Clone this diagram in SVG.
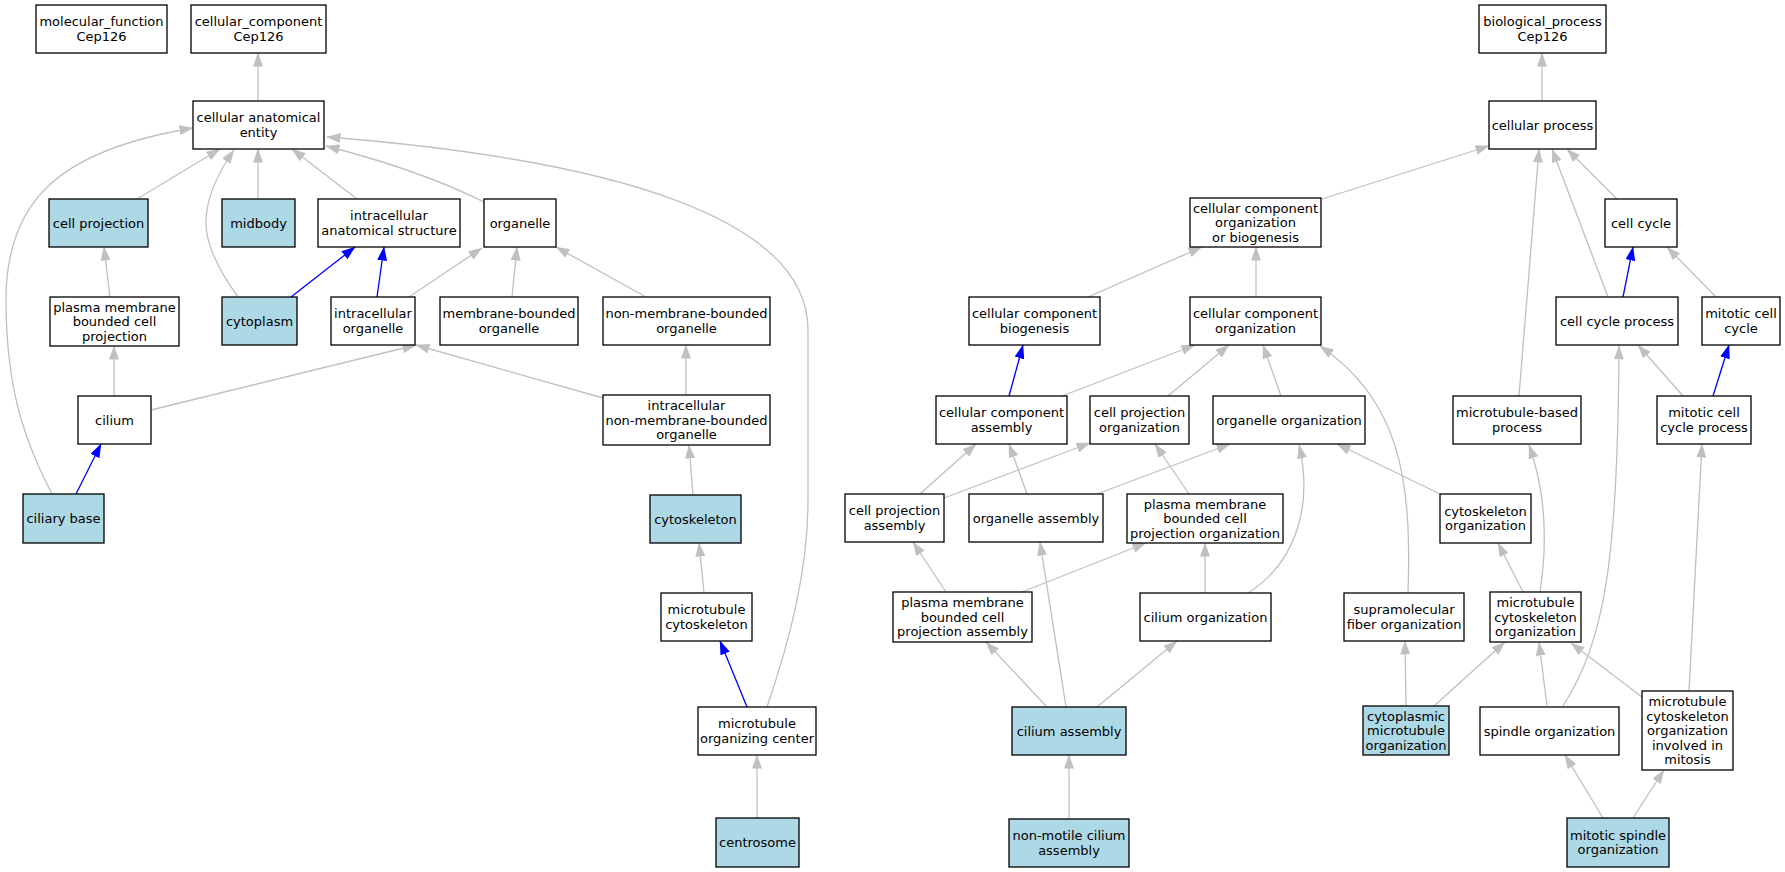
<svg xmlns="http://www.w3.org/2000/svg" width="1785" height="872" viewBox="0 0 1785 872">
<style>
.n rect{fill:#ffffff;stroke:#000000;stroke-width:1.3}
.n.h rect{fill:#add8e6}
.n text{font-family:"DejaVu Sans","Liberation Sans",sans-serif;font-size:13px;fill:#000000;text-anchor:middle}
.e path{fill:none;stroke-width:1.3}
.e .g{stroke:#c0c0c0;marker-end:url(#ag)}
.e .b{stroke:#0000ff;marker-end:url(#ab)}
</style>
<defs>
<marker id="ag" viewBox="0 0 14 10" refX="13.5" refY="5" markerWidth="14" markerHeight="10" markerUnits="userSpaceOnUse" orient="auto"><path d="M0,0L14,5L0,10z" fill="#c0c0c0"/></marker>
<marker id="ab" viewBox="0 0 14 10" refX="13.5" refY="5" markerWidth="14" markerHeight="10" markerUnits="userSpaceOnUse" orient="auto"><path d="M0,0L14,5L0,10z" fill="#0000ff"/></marker>
</defs>
<rect width="1785" height="872" fill="#ffffff"/>
<g id="connectors" class="e">
<path class="g" d="M258,101 L258,53"/>
<path class="g" d="M137,199 L220,149"/>
<path class="g" d="M238,297 C215,265 205,240 206,220 C207,195 220,170 234,150"/>
<path class="g" d="M258,199 L258,149"/>
<path class="g" d="M357,199 L292,149"/>
<path class="g" d="M484,202 C450,185 400,165 326,146"/>
<path class="g" d="M52,494 C30,450 6,400 6,300 C6,200 60,150 193,128"/>
<path class="g" d="M767,707 C790,640 808,570 808,500 L808,330 C808,220 620,160 327,137"/>
<path class="b" d="M291,297 L355,247"/>
<path class="b" d="M377,297 L384,247"/>
<path class="g" d="M409,297 L482,248"/>
<path class="g" d="M512,297 L517,247"/>
<path class="g" d="M646,297 L556,247"/>
<path class="g" d="M110,297 L104,247"/>
<path class="g" d="M114,396 L114,346"/>
<path class="g" d="M151,410 L416,345"/>
<path class="g" d="M603,398 L416,345"/>
<path class="g" d="M686,395 L686,345"/>
<path class="b" d="M76,494 L101,444"/>
<path class="g" d="M693,495 L689,445"/>
<path class="g" d="M704,593 L699,543"/>
<path class="b" d="M747,707 L720,641"/>
<path class="g" d="M757,818 L757,755"/>
<path class="g" d="M1542,101 L1542,53"/>
<path class="g" d="M1322,199 L1489,146"/>
<path class="g" d="M1617,199 L1567,149"/>
<path class="g" d="M1608,297 L1552,149"/>
<path class="g" d="M1519,396 L1539,149"/>
<path class="g" d="M1716,297 L1667,247"/>
<path class="b" d="M1623,297 L1633,247"/>
<path class="b" d="M1713,396 L1729,345"/>
<path class="g" d="M1683,396 L1638,345"/>
<path class="g" d="M1088,297 L1202,247"/>
<path class="g" d="M1256,297 L1256,247"/>
<path class="b" d="M1009,396 L1023,345"/>
<path class="g" d="M1062,396 L1195,345"/>
<path class="g" d="M1168,396 L1229,345"/>
<path class="g" d="M1281,396 L1263,345"/>
<path class="g" d="M1408,593 C1412,480 1400,400 1320,346"/>
<path class="g" d="M920,494 L976,444"/>
<path class="g" d="M944,498 L1090,443"/>
<path class="g" d="M1027,494 L1009,444"/>
<path class="g" d="M1097,494 L1230,444"/>
<path class="g" d="M1189,494 L1155,444"/>
<path class="g" d="M946,592 L913,542"/>
<path class="g" d="M1022,592 L1146,543"/>
<path class="g" d="M1205,593 L1205,543"/>
<path class="g" d="M1248,593 C1300,560 1312,500 1299,445"/>
<path class="g" d="M1047,707 L986,642"/>
<path class="g" d="M1066,707 L1040,542"/>
<path class="g" d="M1097,707 L1177,641"/>
<path class="g" d="M1069,819 L1069,755"/>
<path class="g" d="M1440,494 L1337,444"/>
<path class="g" d="M1523,592 L1498,543"/>
<path class="g" d="M1540,592 C1548,540 1545,490 1529,445"/>
<path class="g" d="M1406,706 L1405,641"/>
<path class="g" d="M1434,706 L1505,642"/>
<path class="g" d="M1547,706 L1539,642"/>
<path class="g" d="M1563,706 C1605,640 1618,560 1619,346"/>
<path class="g" d="M1642,697 L1571,643"/>
<path class="g" d="M1689,691 L1702,444"/>
<path class="g" d="M1603,818 L1565,755"/>
<path class="g" d="M1633,818 L1664,770"/>
</g>
<g id="molecular_function" class="n"><rect x="36" y="5" width="131" height="48"/><text><tspan x="101.5" y="26.25">molecular_function</tspan><tspan x="101.5" y="40.75">Cep126</tspan></text></g>
<g id="cellular_component" class="n"><rect x="191" y="5" width="135" height="48"/><text><tspan x="258.5" y="26.25">cellular_component</tspan><tspan x="258.5" y="40.75">Cep126</tspan></text></g>
<g id="cellular_anatomical_entity" class="n"><rect x="193" y="101" width="131" height="48"/><text><tspan x="258.5" y="122.25">cellular anatomical</tspan><tspan x="258.5" y="136.75">entity</tspan></text></g>
<g id="cell_projection" class="n h"><rect x="49" y="199" width="99" height="48"/><text x="98.5" y="227.5">cell projection</text></g>
<g id="midbody" class="n h"><rect x="222" y="199" width="73" height="48"/><text x="258.5" y="227.5">midbody</text></g>
<g id="intracellular_anatomical_structure" class="n"><rect x="318" y="199" width="142" height="48"/><text><tspan x="389" y="220.25">intracellular</tspan><tspan x="389" y="234.75">anatomical structure</tspan></text></g>
<g id="organelle" class="n"><rect x="484" y="199" width="72" height="48"/><text x="520" y="227.5">organelle</text></g>
<g id="plasma_membrane_bounded_cell_projection" class="n"><rect x="50" y="297" width="129" height="49"/><text><tspan x="114.5" y="311.5">plasma membrane</tspan><tspan x="114.5" y="326">bounded cell</tspan><tspan x="114.5" y="340.5">projection</tspan></text></g>
<g id="cytoplasm" class="n h"><rect x="222" y="297" width="75" height="48"/><text x="259.5" y="325.5">cytoplasm</text></g>
<g id="intracellular_organelle" class="n"><rect x="331" y="297" width="84" height="48"/><text><tspan x="373" y="318.25">intracellular</tspan><tspan x="373" y="332.75">organelle</tspan></text></g>
<g id="membrane_bounded_organelle" class="n"><rect x="440" y="297" width="138" height="48"/><text><tspan x="509" y="318.25">membrane-bounded</tspan><tspan x="509" y="332.75">organelle</tspan></text></g>
<g id="non_membrane_bounded_organelle" class="n"><rect x="603" y="297" width="167" height="48"/><text><tspan x="686.5" y="318.25">non-membrane-bounded</tspan><tspan x="686.5" y="332.75">organelle</tspan></text></g>
<g id="cilium" class="n"><rect x="78" y="396" width="73" height="48"/><text x="114.5" y="424.5">cilium</text></g>
<g id="intracellular_non_membrane_bounded_organelle" class="n"><rect x="603" y="395" width="167" height="50"/><text><tspan x="686.5" y="410">intracellular</tspan><tspan x="686.5" y="424.5">non-membrane-bounded</tspan><tspan x="686.5" y="439">organelle</tspan></text></g>
<g id="ciliary_base" class="n h"><rect x="23" y="494" width="81" height="49"/><text x="63.5" y="523">ciliary base</text></g>
<g id="cytoskeleton" class="n h"><rect x="650" y="495" width="91" height="48"/><text x="695.5" y="523.5">cytoskeleton</text></g>
<g id="microtubule_cytoskeleton" class="n"><rect x="661" y="593" width="91" height="48"/><text><tspan x="706.5" y="614.25">microtubule</tspan><tspan x="706.5" y="628.75">cytoskeleton</tspan></text></g>
<g id="microtubule_organizing_center" class="n"><rect x="698" y="707" width="118" height="48"/><text><tspan x="757" y="728.25">microtubule</tspan><tspan x="757" y="742.75">organizing center</tspan></text></g>
<g id="centrosome" class="n h"><rect x="716" y="818" width="83" height="49"/><text x="757.5" y="847">centrosome</text></g>
<g id="biological_process" class="n"><rect x="1479" y="5" width="127" height="48"/><text><tspan x="1542.5" y="26.25">biological_process</tspan><tspan x="1542.5" y="40.75">Cep126</tspan></text></g>
<g id="cellular_process" class="n"><rect x="1489" y="101" width="107" height="48"/><text x="1542.5" y="129.5">cellular process</text></g>
<g id="cellular_component_organization_or_biogenesis" class="n"><rect x="1190" y="198" width="131" height="49"/><text><tspan x="1255.5" y="212.5">cellular component</tspan><tspan x="1255.5" y="227">organization</tspan><tspan x="1255.5" y="241.5">or biogenesis</tspan></text></g>
<g id="cell_cycle" class="n"><rect x="1605" y="199" width="72" height="48"/><text x="1641" y="227.5">cell cycle</text></g>
<g id="cellular_component_biogenesis" class="n"><rect x="969" y="297" width="131" height="48"/><text><tspan x="1034.5" y="318.25">cellular component</tspan><tspan x="1034.5" y="332.75">biogenesis</tspan></text></g>
<g id="cellular_component_organization" class="n"><rect x="1190" y="297" width="131" height="48"/><text><tspan x="1255.5" y="318.25">cellular component</tspan><tspan x="1255.5" y="332.75">organization</tspan></text></g>
<g id="cell_cycle_process" class="n"><rect x="1556" y="297" width="122" height="48"/><text x="1617" y="325.5">cell cycle process</text></g>
<g id="mitotic_cell_cycle" class="n"><rect x="1702" y="297" width="78" height="48"/><text><tspan x="1741" y="318.25">mitotic cell</tspan><tspan x="1741" y="332.75">cycle</tspan></text></g>
<g id="cellular_component_assembly" class="n"><rect x="936" y="396" width="131" height="48"/><text><tspan x="1001.5" y="417.25">cellular component</tspan><tspan x="1001.5" y="431.75">assembly</tspan></text></g>
<g id="cell_projection_organization" class="n"><rect x="1090" y="396" width="99" height="48"/><text><tspan x="1139.5" y="417.25">cell projection</tspan><tspan x="1139.5" y="431.75">organization</tspan></text></g>
<g id="organelle_organization" class="n"><rect x="1213" y="396" width="152" height="48"/><text x="1289" y="424.5">organelle organization</text></g>
<g id="microtubule_based_process" class="n"><rect x="1453" y="396" width="128" height="48"/><text><tspan x="1517" y="417.25">microtubule-based</tspan><tspan x="1517" y="431.75">process</tspan></text></g>
<g id="mitotic_cell_cycle_process" class="n"><rect x="1657" y="396" width="94" height="48"/><text><tspan x="1704" y="417.25">mitotic cell</tspan><tspan x="1704" y="431.75">cycle process</tspan></text></g>
<g id="cell_projection_assembly" class="n"><rect x="845" y="494" width="99" height="48"/><text><tspan x="894.5" y="515.25">cell projection</tspan><tspan x="894.5" y="529.75">assembly</tspan></text></g>
<g id="organelle_assembly" class="n"><rect x="969" y="494" width="134" height="48"/><text x="1036" y="522.5">organelle assembly</text></g>
<g id="plasma_membrane_bounded_cell_projection_organization" class="n"><rect x="1127" y="494" width="156" height="49"/><text><tspan x="1205" y="508.5">plasma membrane</tspan><tspan x="1205" y="523">bounded cell</tspan><tspan x="1205" y="537.5">projection organization</tspan></text></g>
<g id="cytoskeleton_organization" class="n"><rect x="1440" y="494" width="91" height="49"/><text><tspan x="1485.5" y="515.75">cytoskeleton</tspan><tspan x="1485.5" y="530.25">organization</tspan></text></g>
<g id="plasma_membrane_bounded_cell_projection_assembly" class="n"><rect x="893" y="592" width="139" height="50"/><text><tspan x="962.5" y="607">plasma membrane</tspan><tspan x="962.5" y="621.5">bounded cell</tspan><tspan x="962.5" y="636">projection assembly</tspan></text></g>
<g id="cilium_organization" class="n"><rect x="1140" y="593" width="131" height="48"/><text x="1205.5" y="621.5">cilium organization</text></g>
<g id="supramolecular_fiber_organization" class="n"><rect x="1344" y="593" width="120" height="48"/><text><tspan x="1404" y="614.25">supramolecular</tspan><tspan x="1404" y="628.75">fiber organization</tspan></text></g>
<g id="microtubule_cytoskeleton_organization" class="n"><rect x="1490" y="592" width="91" height="50"/><text><tspan x="1535.5" y="607">microtubule</tspan><tspan x="1535.5" y="621.5">cytoskeleton</tspan><tspan x="1535.5" y="636">organization</tspan></text></g>
<g id="cilium_assembly" class="n h"><rect x="1012" y="707" width="114" height="48"/><text x="1069" y="735.5">cilium assembly</text></g>
<g id="cytoplasmic_microtubule_organization" class="n h"><rect x="1363" y="706" width="86" height="49"/><text><tspan x="1406" y="720.5">cytoplasmic</tspan><tspan x="1406" y="735">microtubule</tspan><tspan x="1406" y="749.5">organization</tspan></text></g>
<g id="spindle_organization" class="n"><rect x="1480" y="707" width="139" height="48"/><text x="1549.5" y="735.5">spindle organization</text></g>
<g id="microtubule_cytoskeleton_organization_involved_in_mitosis" class="n"><rect x="1642" y="691" width="91" height="79"/><text><tspan x="1687.5" y="706">microtubule</tspan><tspan x="1687.5" y="720.5">cytoskeleton</tspan><tspan x="1687.5" y="735">organization</tspan><tspan x="1687.5" y="749.5">involved in</tspan><tspan x="1687.5" y="764">mitosis</tspan></text></g>
<g id="non_motile_cilium_assembly" class="n h"><rect x="1009" y="819" width="120" height="48"/><text><tspan x="1069" y="840.25">non-motile cilium</tspan><tspan x="1069" y="854.75">assembly</tspan></text></g>
<g id="mitotic_spindle_organization" class="n h"><rect x="1567" y="818" width="102" height="49"/><text><tspan x="1618" y="839.75">mitotic spindle</tspan><tspan x="1618" y="854.25">organization</tspan></text></g>
</svg>
